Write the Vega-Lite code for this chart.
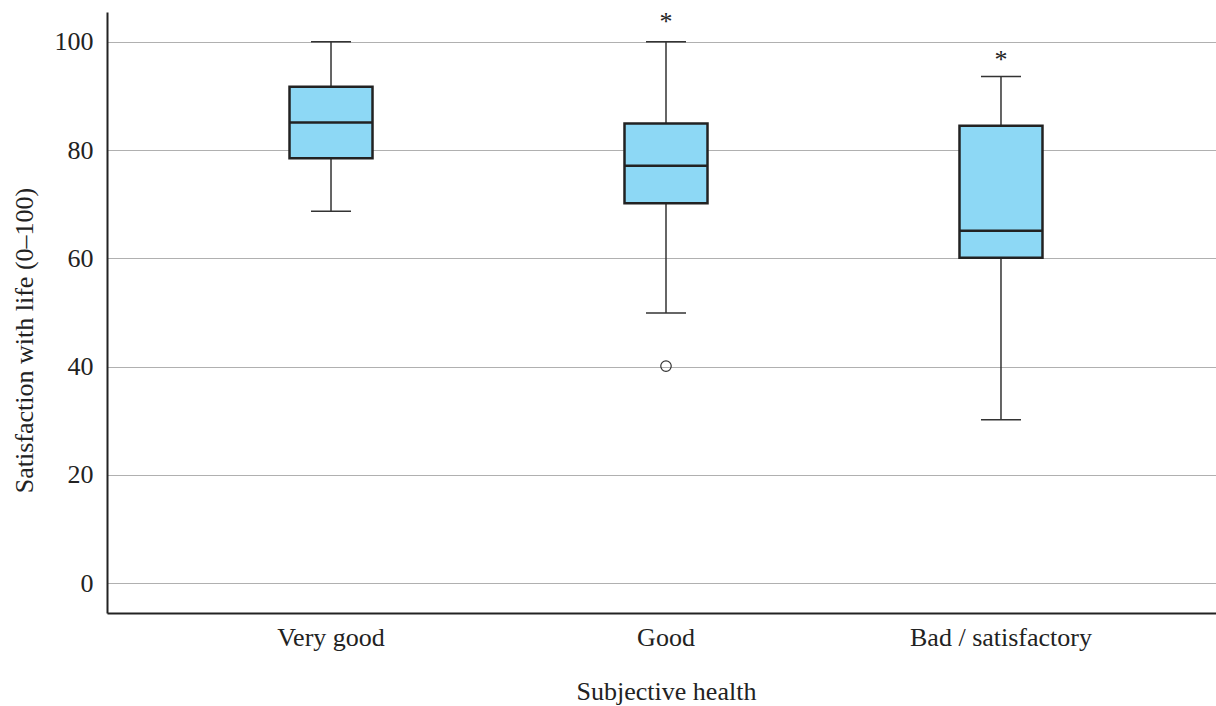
{
  "$schema": "https://vega.github.io/schema/vega-lite/v6.json",
  "autosize": {"type": "none"},
  "padding": {"left": 107, "top": 12, "right": 0, "bottom": 93},
  "width": 1118,
  "height": 601,
  "background": "white",
  "config": {
    "font": "Liberation Serif",
    "view": {"stroke": null},
    "axis": {"labelFont": "Liberation Serif", "titleFont": "Liberation Serif", "labelFontSize": 26, "titleFontSize": 26, "labelColor": "#222", "titleColor": "#222", "titleFontWeight": "normal", "domainColor": "#222", "domainWidth": 2, "ticks": false, "labelLimit": 500}
  },
  "datasets": {
    "boxes": [
      {"health": "Very good", "lo": 68.7, "q1": 78.5, "median": 85.1, "q3": 91.7, "hi": 100},
      {"health": "Good", "lo": 49.9, "q1": 70.2, "median": 77.1, "q3": 84.9, "hi": 100},
      {"health": "Bad / satisfactory", "lo": 30.2, "q1": 60.1, "median": 65.1, "q3": 84.5, "hi": 93.6}
    ],
    "outliers": [
      {"health": "Good", "value": 40.1}
    ],
    "extremes": [
      {"health": "Good", "value": 104.5, "label": "*"},
      {"health": "Bad / satisfactory", "value": 97.6, "label": "*"}
    ]
  },
  "encoding": {
    "x": {
      "field": "health", "type": "nominal",
      "sort": ["Very good", "Good", "Bad / satisfactory"],
      "scale": {"paddingInner": 0, "paddingOuter": 0.1687},
      "axis": {"title": "Subjective health", "labelAngle": 0, "labelBaseline": "alphabetic", "labelPadding": 32, "titleBaseline": "alphabetic", "titleY": 86, "grid": false}
    }
  },
  "layer": [
    {
      "data": {"name": "boxes"},
      "mark": {"type": "rule", "color": "#333", "strokeWidth": 1.5},
      "encoding": {
        "y": {"field": "lo", "type": "quantitative", "scale": {"domain": [-5.5, 105.5], "nice": false, "zero": false},
          "axis": {"title": "Satisfaction with life (0–100)", "values": [0, 20, 40, 60, 80, 100], "grid": true, "gridColor": "#b0b0b0", "gridWidth": 1.2, "labelPadding": 14, "titleX": -83, "titleY": 328, "titleBaseline": "middle"}},
        "y2": {"field": "hi"}
      }
    },
    {
      "data": {"name": "boxes"},
      "mark": {"type": "tick", "color": "#333", "size": 40, "thickness": 1.5, "orient": "horizontal", "opacity": 1},
      "encoding": {"y": {"field": "lo", "type": "quantitative"}}
    },
    {
      "data": {"name": "boxes"},
      "mark": {"type": "tick", "color": "#333", "size": 40, "thickness": 1.5, "orient": "horizontal", "opacity": 1},
      "encoding": {"y": {"field": "hi", "type": "quantitative"}}
    },
    {
      "data": {"name": "boxes"},
      "mark": {"type": "bar", "width": 83, "fill": "#8dd8f5", "stroke": "#222", "strokeWidth": 2.5, "opacity": 1},
      "encoding": {
        "y": {"field": "q1", "type": "quantitative"},
        "y2": {"field": "q3"}
      }
    },
    {
      "data": {"name": "boxes"},
      "mark": {"type": "tick", "color": "#222", "size": 83, "thickness": 2.5, "orient": "horizontal", "opacity": 1},
      "encoding": {"y": {"field": "median", "type": "quantitative"}}
    },
    {
      "data": {"name": "outliers"},
      "mark": {"type": "point", "shape": "circle", "filled": false, "size": 110, "stroke": "#333", "strokeWidth": 1.2, "opacity": 1},
      "encoding": {"y": {"field": "value", "type": "quantitative"}}
    },
    {
      "data": {"name": "extremes"},
      "mark": {"type": "text", "fontSize": 26, "color": "#222", "baseline": "middle", "dy": 5},
      "encoding": {
        "y": {"field": "value", "type": "quantitative"},
        "text": {"field": "label"}
      }
    }
  ]
}
